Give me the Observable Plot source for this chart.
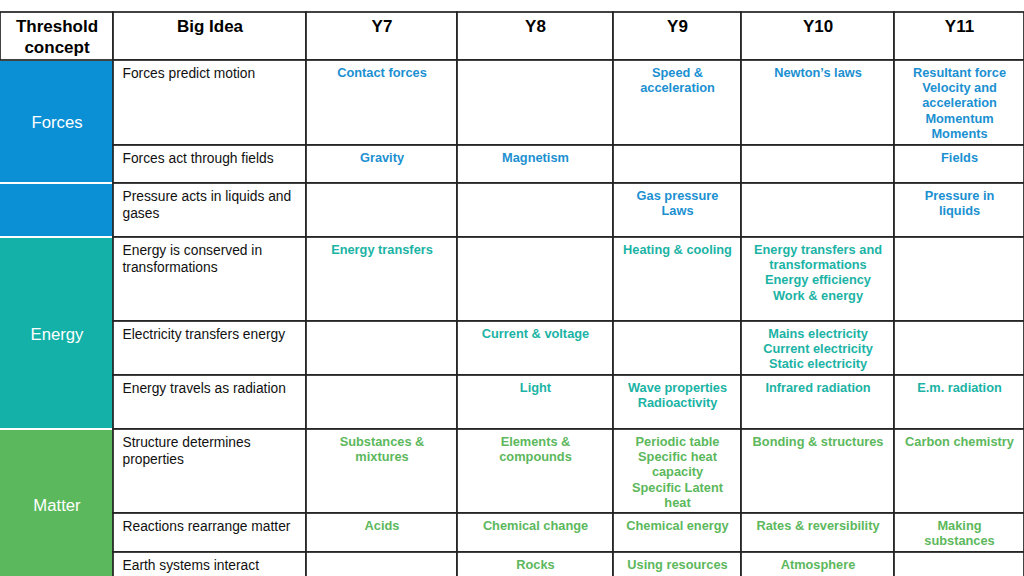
<!DOCTYPE html>
<html><head><meta charset="utf-8">
<script src="https://cdn.jsdelivr.net/npm/d3@7"></script>
<script src="https://cdn.jsdelivr.net/npm/@observablehq/plot@0.6"></script>
<style>
body{margin:0;background:#fff;}
#chart svg{display:block;font-family:"Liberation Sans",Arial,sans-serif;}
</style>
</head><body><div id="chart"></div>
<script>
// ---------- data ----------
const headers = ["Threshold\nconcept","Big Idea","Y7","Y8","Y9","Y10","Y11"];
const concepts = ["Forces","Energy","Matter"];
const bigIdeas = [
  "Forces predict motion",
  "Forces act through fields",
  "Pressure acts in liquids and\ngases",
  "Energy is conserved in\ntransformations",
  "Electricity transfers energy",
  "Energy travels as radiation",
  "Structure determines\nproperties",
  "Reactions rearrange matter",
  "Earth systems interact"
];
const ideaConcept = ["Forces","Forces","Forces","Energy","Energy","Energy","Matter","Matter","Matter"];
const y7  = ["Contact forces","Gravity","","Energy transfers","","","Substances &\nmixtures","Acids",""];
const y8  = ["","Magnetism","","","Current & voltage","Light","Elements &\ncompounds","Chemical change","Rocks"];
const y9  = ["Speed &\nacceleration","","Gas pressure\nLaws","Heating & cooling","","Wave properties\nRadioactivity","Periodic table\nSpecific heat\ncapacity\nSpecific Latent\nheat","Chemical energy","Using resources"];
const y10 = ["Newton\u2019s laws","","","Energy transfers and\ntransformations\nEnergy efficiency\nWork & energy","Mains electricity\nCurrent electricity\nStatic electricity","Infrared radiation","Bonding & structures","Rates & reversibility","Atmosphere"];
const y11 = ["Resultant force\nVelocity and\nacceleration\nMomentum\nMoments","Fields","Pressure in\nliquids","","","E.m. radiation","Carbon chemistry","Making\nsubstances",""];
const yearTopics = [y7, y8, y9, y10, y11];
// concept blocks in the first column (label, first row, end row)
const blockConcept = ["Forces","Forces","Energy","Matter"];
const blockLabel   = ["Forces","","Energy","Matter"];
const blockStart   = [0,2,3,6];
const blockEnd     = [2,3,6,9];

// ---------- style / layout ----------
const fillColors = ["#0b8fd5","#13b1a7","#5cb85c"];
const textColors = ["#1b90d1","#1bb3a5","#5cb85c"];
const colEdges = [0,113,306,457,613,741,894,1024];
const rowEdges = [12,60,145,183,237,321,375,429,513,552,580];
const rowTop = i => rowEdges[i + 1];   // body row top
const rowBot = i => rowEdges[i + 2];   // body row bottom
const gridColor = "#222";

// ---------- tables for marks ----------
const headerCells = headers.map((h, c) => ({col: c, text: h}));
const ideaCells = bigIdeas.map((t, r) => ({row: r, col: 1, text: t, concept: ideaConcept[r]}));
const topicCells = [];
yearTopics.forEach((arr, j) => arr.forEach((t, r) => topicCells.push({row: r, col: j + 2, text: t, concept: ideaConcept[r]})));
const blocks = blockConcept.map((c, k) => ({concept: c, label: blockLabel[k], r0: blockStart[k], r1: blockEnd[k]}));

const gridRect = {
  x1: d => colEdges[d.col], x2: d => colEdges[d.col + 1],
  y1: d => rowTop(d.row), y2: d => rowBot(d.row),
  fill: "white", stroke: gridColor, strokeWidth: 1.7
};

const topicTextMarks = concepts.map((c, k) =>
  Plot.text(topicCells.filter(d => d.concept === c && d.text), {
    x: d => (colEdges[d.col] + colEdges[d.col + 1]) / 2,
    y: d => rowTop(d.row) + 5.5,
    text: "text", textAnchor: "middle", lineAnchor: "top",
    fontSize: 12.8, fontWeight: "bold", lineHeight: 1.19, fill: textColors[k]
  })
);

const chart = Plot.plot({
  width: 1024, height: 576,
  margin: 0,
  x: {domain: [0, 1024], range: [0, 1024], axis: null},
  y: {domain: [0, 576], range: [0, 576], axis: null},
  color: {domain: concepts, range: fillColors},
  style: {fontFamily: '"Liberation Sans", Arial, sans-serif', background: "white"},
  marks: [
    // concept blocks
    Plot.rect(blocks, {
      x1: 0, x2: colEdges[1],
      y1: d => rowTop(d.r0), y2: d => rowTop(d.r1),
      fill: "concept", insetTop: 1, insetBottom: 1
    }),
    // header cells
    Plot.rect(headerCells, {
      x1: d => colEdges[d.col], x2: d => colEdges[d.col + 1],
      y1: rowEdges[0], y2: rowEdges[1],
      fill: "white", stroke: gridColor, strokeWidth: 1.7
    }),
    // body grid
    Plot.rect(ideaCells, gridRect),
    Plot.rect(topicCells, gridRect),
    // header text
    Plot.text(headerCells, {
      x: d => (colEdges[d.col] + colEdges[d.col + 1]) / 2,
      y: rowEdges[0] + 4.5,
      text: "text", textAnchor: "middle", lineAnchor: "top",
      fontSize: 17, fontWeight: "bold", lineHeight: 1.25, fill: "black"
    }),
    // concept labels
    Plot.text(blocks.filter(d => d.label), {
      x: colEdges[1] / 2,
      y: d => (rowTop(d.r0) + rowTop(d.r1)) / 2 + 1,
      text: "label", textAnchor: "middle", lineAnchor: "middle",
      fontSize: 16.7, fill: "white"
    }),
    // big idea text
    Plot.text(ideaCells, {
      x: colEdges[1] + 9,
      y: d => rowTop(d.row) + 5,
      text: "text", textAnchor: "start", lineAnchor: "top",
      fontSize: 13.8, lineHeight: 1.23, fill: "#111"
    }),
    ...topicTextMarks
  ]
});
document.getElementById("chart").appendChild(chart);
</script>
</body></html>
